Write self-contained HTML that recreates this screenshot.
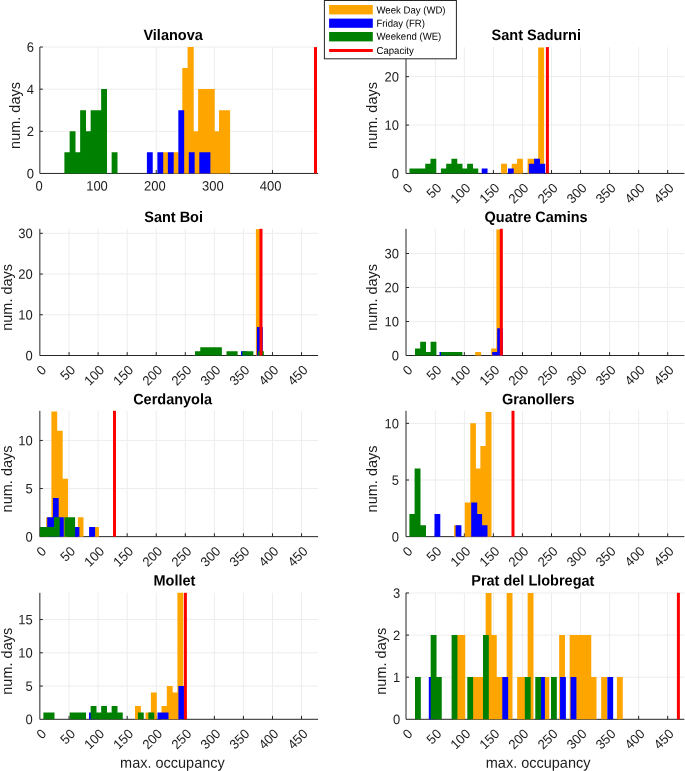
<!DOCTYPE html>
<html><head><meta charset="utf-8"><title>Occupancy histograms</title>
<style>html,body{margin:0;padding:0;background:#fff}svg{display:block;will-change:transform}</style></head>
<body>
<svg width="685" height="771" viewBox="0 0 685 771" font-family="Liberation Sans, sans-serif" fill="#1c1c1c">
<rect width="685" height="771" fill="#fff"/>
<path d="M98.12 47.10V173.45M156.24 47.10V173.45M214.36 47.10V173.45M272.48 47.10V173.45M39.85 131.31H318.10M39.85 89.17H318.10M39.85 47.03H318.10" stroke="#EDEDED" stroke-width="1" fill="none"/>
<path d="M39.85 47.10V173.45H318.10M98.12 173.45v-3.4M156.24 173.45v-3.4M214.36 173.45v-3.4M272.48 173.45v-3.4M39.85 131.31h3.0M39.85 89.17h3.0M39.85 47.03h3.0" stroke="#262626" stroke-width="1" fill="none"/>
<path d="M162.60 173.45V152.28H168.30V173.45ZM172.90 173.45V152.28H178.80V173.45ZM182.30 173.45V68.00H188.20V173.45ZM187.60 173.45V47.10H193.70V173.45ZM193.10 173.45V131.21H198.70V173.45ZM198.10 173.45V89.07H214.70V173.45ZM214.10 173.45V131.21H219.60V173.45ZM219.00 173.45V110.14H230.10V173.45Z" fill="#FFA500"/>
<path d="M146.90 173.45V152.28H152.74V173.45ZM157.38 173.45V152.28H163.22V173.45ZM167.86 173.45V152.28H173.70V173.45ZM178.34 173.45V110.14H184.18V173.45ZM188.82 173.45V152.28H194.66V173.45ZM199.30 173.45V152.28H205.14V173.45ZM204.54 173.45V152.28H210.38V173.45Z" fill="#0000FF"/>
<path d="M64.40 173.45V152.28H70.25V173.45ZM69.65 173.45V131.21H75.50V173.45ZM74.90 173.45V152.28H80.75V173.45ZM80.15 173.45V110.14H86.00V173.45ZM85.40 173.45V131.21H91.25V173.45ZM90.65 173.45V110.14H96.50V173.45ZM95.90 173.45V110.14H101.75V173.45ZM101.15 173.45V89.07H107.00V173.45ZM111.65 173.45V152.28H117.50V173.45Z" fill="#008000"/>
<path d="M315.50 47.10V173.45" stroke="#FF0000" stroke-width="3" fill="none"/>
<text transform="translate(34.05 178.25) rotate(0.03) scale(1 1.04)" font-size="13.0" text-anchor="end">0</text>
<text transform="translate(34.05 136.11) rotate(0.03) scale(1 1.04)" font-size="13.0" text-anchor="end">2</text>
<text transform="translate(34.05 93.97) rotate(0.03) scale(1 1.04)" font-size="13.0" text-anchor="end">4</text>
<text transform="translate(34.05 51.83) rotate(0.03) scale(1 1.04)" font-size="13.0" text-anchor="end">6</text>
<text transform="translate(39.10 190.55) rotate(0.03) scale(1 1.04)" font-size="13.0" text-anchor="middle">0</text>
<text transform="translate(97.00 190.55) rotate(0.03) scale(1 1.04)" font-size="13.0" text-anchor="middle">100</text>
<text transform="translate(154.90 190.55) rotate(0.03) scale(1 1.04)" font-size="13.0" text-anchor="middle">200</text>
<text transform="translate(212.80 190.55) rotate(0.03) scale(1 1.04)" font-size="13.0" text-anchor="middle">300</text>
<text transform="translate(270.70 190.55) rotate(0.03) scale(1 1.04)" font-size="13.0" text-anchor="middle">400</text>
<text transform="translate(19.95 115.47) rotate(-90)" font-size="14.5" text-anchor="middle">num. days</text>
<text transform="translate(173.10 40.10) rotate(0.03) scale(1 1.04)" font-size="14.5" font-weight="bold" text-anchor="middle" fill="#000">Vilanova</text>
<path d="M435.30 47.10V173.45M464.35 47.10V173.45M493.40 47.10V173.45M522.45 47.10V173.45M551.50 47.10V173.45M580.55 47.10V173.45M609.60 47.10V173.45M638.65 47.10V173.45M667.70 47.10V173.45M406.00 125.05H684.40M406.00 76.65H684.40" stroke="#EDEDED" stroke-width="1" fill="none"/>
<path d="M406.00 47.10V173.45H684.40M435.30 173.45v-3.4M464.35 173.45v-3.4M493.40 173.45v-3.4M522.45 173.45v-3.4M551.50 173.45v-3.4M580.55 173.45v-3.4M609.60 173.45v-3.4M638.65 173.45v-3.4M667.70 173.45v-3.4M406.00 125.05h3.0M406.00 76.65h3.0" stroke="#262626" stroke-width="1" fill="none"/>
<path d="M501.10 173.45V163.67H507.00V173.45ZM511.70 173.45V163.67H517.60V173.45ZM517.00 173.45V158.83H522.90V173.45ZM527.60 173.45V158.83H533.50V173.45ZM532.90 173.45V158.83H538.80V173.45ZM538.20 173.45V47.51H544.10V173.45Z" fill="#FFA500"/>
<path d="M481.70 173.45V168.51H487.54V173.45ZM507.90 173.45V168.51H513.74V173.45ZM528.86 173.45V163.67H534.70V173.45ZM534.10 173.45V158.83H539.94V173.45ZM539.34 173.45V163.67H545.18V173.45Z" fill="#0000FF"/>
<path d="M409.50 173.45V168.51H415.34V173.45ZM414.74 173.45V168.51H420.58V173.45ZM419.98 173.45V168.51H425.82V173.45ZM425.22 173.45V163.67H431.06V173.45ZM430.46 173.45V158.83H436.30V173.45ZM440.94 173.45V168.51H446.78V173.45ZM446.18 173.45V163.67H452.02V173.45ZM451.42 173.45V158.83H457.26V173.45ZM456.66 173.45V163.67H462.50V173.45ZM461.90 173.45V168.51H467.74V173.45ZM467.14 173.45V163.67H472.98V173.45ZM472.38 173.45V168.51H478.22V173.45Z" fill="#008000"/>
<path d="M547.40 47.10V173.45" stroke="#FF0000" stroke-width="3" fill="none"/>
<text transform="translate(399.00 178.25) rotate(0.03) scale(1 1.04)" font-size="13.0" text-anchor="end">0</text>
<text transform="translate(399.00 129.85) rotate(0.03) scale(1 1.04)" font-size="13.0" text-anchor="end">10</text>
<text transform="translate(399.00 81.45) rotate(0.03) scale(1 1.04)" font-size="13.0" text-anchor="end">20</text>
<text transform="translate(413.25 188.85) rotate(-45) scale(1 1.03)" font-size="13.0" text-anchor="end">0</text>
<text transform="translate(442.30 188.85) rotate(-45) scale(1 1.03)" font-size="13.0" text-anchor="end">50</text>
<text transform="translate(471.35 188.85) rotate(-45) scale(1 1.03)" font-size="13.0" text-anchor="end">100</text>
<text transform="translate(500.40 188.85) rotate(-45) scale(1 1.03)" font-size="13.0" text-anchor="end">150</text>
<text transform="translate(529.45 188.85) rotate(-45) scale(1 1.03)" font-size="13.0" text-anchor="end">200</text>
<text transform="translate(558.50 188.85) rotate(-45) scale(1 1.03)" font-size="13.0" text-anchor="end">250</text>
<text transform="translate(587.55 188.85) rotate(-45) scale(1 1.03)" font-size="13.0" text-anchor="end">300</text>
<text transform="translate(616.60 188.85) rotate(-45) scale(1 1.03)" font-size="13.0" text-anchor="end">350</text>
<text transform="translate(645.65 188.85) rotate(-45) scale(1 1.03)" font-size="13.0" text-anchor="end">400</text>
<text transform="translate(674.70 188.85) rotate(-45) scale(1 1.03)" font-size="13.0" text-anchor="end">450</text>
<text transform="translate(376.90 115.47) rotate(-90)" font-size="14.5" text-anchor="middle">num. days</text>
<text transform="translate(536.30 40.10) rotate(0.03) scale(1 1.04)" font-size="14.5" font-weight="bold" text-anchor="middle" fill="#000">Sant Sadurni</text>
<path d="M69.06 228.80V355.50M98.12 228.80V355.50M127.18 228.80V355.50M156.24 228.80V355.50M185.30 228.80V355.50M214.36 228.80V355.50M243.42 228.80V355.50M272.48 228.80V355.50M301.54 228.80V355.50M39.85 314.77H318.10M39.85 274.04H318.10M39.85 233.31H318.10" stroke="#EDEDED" stroke-width="1" fill="none"/>
<path d="M39.85 228.80V355.50H318.10M69.06 355.50v-3.4M98.12 355.50v-3.4M127.18 355.50v-3.4M156.24 355.50v-3.4M185.30 355.50v-3.4M214.36 355.50v-3.4M243.42 355.50v-3.4M272.48 355.50v-3.4M301.54 355.50v-3.4M39.85 314.77h3.0M39.85 274.04h3.0M39.85 233.31h3.0" stroke="#262626" stroke-width="1" fill="none"/>
<path d="M255.90 355.50V229.14H261.50V355.50Z" fill="#FFA500"/>
<path d="M241.00 355.50V351.33H246.80V355.50ZM256.90 355.50V326.89H262.80V355.50Z" fill="#0000FF"/>
<path d="M195.00 355.50V351.33H200.85V355.50ZM200.25 355.50V347.25H206.10V355.50ZM205.50 355.50V347.25H211.35V355.50ZM210.75 355.50V347.25H216.60V355.50ZM216.00 355.50V347.25H221.85V355.50ZM226.50 355.50V351.33H232.35V355.50ZM231.75 355.50V351.33H237.60V355.50ZM242.25 355.50V351.33H248.10V355.50ZM247.50 355.50V351.33H253.35V355.50ZM258.00 355.50V351.33H263.85V355.50Z" fill="#008000"/>
<path d="M261.00 228.80V355.50" stroke="#FF0000" stroke-width="3" fill="none"/>
<text transform="translate(32.75 360.30) rotate(0.03) scale(1 1.04)" font-size="13.0" text-anchor="end">0</text>
<text transform="translate(32.75 319.57) rotate(0.03) scale(1 1.04)" font-size="13.0" text-anchor="end">10</text>
<text transform="translate(32.75 278.84) rotate(0.03) scale(1 1.04)" font-size="13.0" text-anchor="end">20</text>
<text transform="translate(32.75 238.11) rotate(0.03) scale(1 1.04)" font-size="13.0" text-anchor="end">30</text>
<text transform="translate(47.00 370.90) rotate(-45) scale(1 1.03)" font-size="13.0" text-anchor="end">0</text>
<text transform="translate(76.06 370.90) rotate(-45) scale(1 1.03)" font-size="13.0" text-anchor="end">50</text>
<text transform="translate(105.12 370.90) rotate(-45) scale(1 1.03)" font-size="13.0" text-anchor="end">100</text>
<text transform="translate(134.18 370.90) rotate(-45) scale(1 1.03)" font-size="13.0" text-anchor="end">150</text>
<text transform="translate(163.24 370.90) rotate(-45) scale(1 1.03)" font-size="13.0" text-anchor="end">200</text>
<text transform="translate(192.30 370.90) rotate(-45) scale(1 1.03)" font-size="13.0" text-anchor="end">250</text>
<text transform="translate(221.36 370.90) rotate(-45) scale(1 1.03)" font-size="13.0" text-anchor="end">300</text>
<text transform="translate(250.42 370.90) rotate(-45) scale(1 1.03)" font-size="13.0" text-anchor="end">350</text>
<text transform="translate(279.48 370.90) rotate(-45) scale(1 1.03)" font-size="13.0" text-anchor="end">400</text>
<text transform="translate(308.54 370.90) rotate(-45) scale(1 1.03)" font-size="13.0" text-anchor="end">450</text>
<text transform="translate(11.55 297.35) rotate(-90)" font-size="14.5" text-anchor="middle">num. days</text>
<text transform="translate(173.60 222.10) rotate(0.03) scale(1 1.04)" font-size="14.5" font-weight="bold" text-anchor="middle" fill="#000">Sant Boi</text>
<path d="M435.30 228.80V355.50M464.35 228.80V355.50M493.40 228.80V355.50M522.45 228.80V355.50M551.50 228.80V355.50M580.55 228.80V355.50M609.60 228.80V355.50M638.65 228.80V355.50M667.70 228.80V355.50M406.00 321.50H684.40M406.00 287.50H684.40M406.00 253.50H684.40" stroke="#EDEDED" stroke-width="1" fill="none"/>
<path d="M406.00 228.80V355.50H684.40M435.30 355.50v-3.4M464.35 355.50v-3.4M493.40 355.50v-3.4M522.45 355.50v-3.4M551.50 355.50v-3.4M580.55 355.50v-3.4M609.60 355.50v-3.4M638.65 355.50v-3.4M667.70 355.50v-3.4M406.00 321.50h3.0M406.00 287.50h3.0M406.00 253.50h3.0" stroke="#262626" stroke-width="1" fill="none"/>
<path d="M475.20 355.50V352.00H481.10V355.50ZM491.20 355.50V348.60H497.00V355.50ZM496.40 355.50V229.60H502.30V355.50Z" fill="#FFA500"/>
<path d="M439.50 355.50V352.00H445.30V355.50ZM492.20 355.50V352.00H497.80V355.50ZM497.20 355.50V328.20H502.80V355.50Z" fill="#0000FF"/>
<path d="M415.00 355.50V348.60H420.80V355.50ZM420.20 355.50V341.80H426.00V355.50ZM425.40 355.50V352.00H431.20V355.50ZM430.60 355.50V341.80H436.40V355.50ZM441.00 355.50V352.00H446.80V355.50ZM446.20 355.50V352.00H452.00V355.50ZM451.40 355.50V352.00H457.20V355.50ZM456.60 355.50V352.00H462.40V355.50Z" fill="#008000"/>
<path d="M501.30 228.80V355.50" stroke="#FF0000" stroke-width="3" fill="none"/>
<text transform="translate(399.00 360.30) rotate(0.03) scale(1 1.04)" font-size="13.0" text-anchor="end">0</text>
<text transform="translate(399.00 326.30) rotate(0.03) scale(1 1.04)" font-size="13.0" text-anchor="end">10</text>
<text transform="translate(399.00 292.30) rotate(0.03) scale(1 1.04)" font-size="13.0" text-anchor="end">20</text>
<text transform="translate(399.00 258.30) rotate(0.03) scale(1 1.04)" font-size="13.0" text-anchor="end">30</text>
<text transform="translate(413.25 370.90) rotate(-45) scale(1 1.03)" font-size="13.0" text-anchor="end">0</text>
<text transform="translate(442.30 370.90) rotate(-45) scale(1 1.03)" font-size="13.0" text-anchor="end">50</text>
<text transform="translate(471.35 370.90) rotate(-45) scale(1 1.03)" font-size="13.0" text-anchor="end">100</text>
<text transform="translate(500.40 370.90) rotate(-45) scale(1 1.03)" font-size="13.0" text-anchor="end">150</text>
<text transform="translate(529.45 370.90) rotate(-45) scale(1 1.03)" font-size="13.0" text-anchor="end">200</text>
<text transform="translate(558.50 370.90) rotate(-45) scale(1 1.03)" font-size="13.0" text-anchor="end">250</text>
<text transform="translate(587.55 370.90) rotate(-45) scale(1 1.03)" font-size="13.0" text-anchor="end">300</text>
<text transform="translate(616.60 370.90) rotate(-45) scale(1 1.03)" font-size="13.0" text-anchor="end">350</text>
<text transform="translate(645.65 370.90) rotate(-45) scale(1 1.03)" font-size="13.0" text-anchor="end">400</text>
<text transform="translate(674.70 370.90) rotate(-45) scale(1 1.03)" font-size="13.0" text-anchor="end">450</text>
<text transform="translate(376.90 297.35) rotate(-90)" font-size="14.5" text-anchor="middle">num. days</text>
<text transform="translate(536.10 222.10) rotate(0.03) scale(1 1.04)" font-size="14.5" font-weight="bold" text-anchor="middle" fill="#000">Quatre Camins</text>
<path d="M69.06 410.80V536.65M98.12 410.80V536.65M127.18 410.80V536.65M156.24 410.80V536.65M185.30 410.80V536.65M214.36 410.80V536.65M243.42 410.80V536.65M272.48 410.80V536.65M301.54 410.80V536.65M39.85 488.55H318.10M39.85 440.45H318.10" stroke="#EDEDED" stroke-width="1" fill="none"/>
<path d="M39.85 410.80V536.65H318.10M69.06 536.65v-3.4M98.12 536.65v-3.4M127.18 536.65v-3.4M156.24 536.65v-3.4M185.30 536.65v-3.4M214.36 536.65v-3.4M243.42 536.65v-3.4M272.48 536.65v-3.4M301.54 536.65v-3.4M39.85 488.55h3.0M39.85 440.45h3.0" stroke="#262626" stroke-width="1" fill="none"/>
<path d="M46.20 536.65V517.31H52.00V536.65ZM51.40 536.65V411.49H57.20V536.65ZM56.60 536.65V430.73H62.70V536.65ZM62.10 536.65V478.83H68.00V536.65ZM77.90 536.65V517.31H83.50V536.65ZM93.55 536.65V526.93H99.00V536.65Z" fill="#FFA500"/>
<path d="M47.20 536.65V517.31H53.50V536.65ZM52.90 536.65V498.07H58.70V536.65ZM58.10 536.65V517.31H63.80V536.65ZM73.70 536.65V526.93H79.40V536.65ZM89.10 536.65V526.93H95.10V536.65Z" fill="#0000FF"/>
<path d="M39.85 536.65V526.93H54.60V536.65ZM54.00 536.65V517.31H59.70V536.65ZM64.40 536.65V517.31H75.10V536.65Z" fill="#008000"/>
<path d="M114.50 410.80V536.65" stroke="#FF0000" stroke-width="3" fill="none"/>
<text transform="translate(32.75 541.45) rotate(0.03) scale(1 1.04)" font-size="13.0" text-anchor="end">0</text>
<text transform="translate(32.75 493.35) rotate(0.03) scale(1 1.04)" font-size="13.0" text-anchor="end">5</text>
<text transform="translate(32.75 445.25) rotate(0.03) scale(1 1.04)" font-size="13.0" text-anchor="end">10</text>
<text transform="translate(47.00 552.05) rotate(-45) scale(1 1.03)" font-size="13.0" text-anchor="end">0</text>
<text transform="translate(76.06 552.05) rotate(-45) scale(1 1.03)" font-size="13.0" text-anchor="end">50</text>
<text transform="translate(105.12 552.05) rotate(-45) scale(1 1.03)" font-size="13.0" text-anchor="end">100</text>
<text transform="translate(134.18 552.05) rotate(-45) scale(1 1.03)" font-size="13.0" text-anchor="end">150</text>
<text transform="translate(163.24 552.05) rotate(-45) scale(1 1.03)" font-size="13.0" text-anchor="end">200</text>
<text transform="translate(192.30 552.05) rotate(-45) scale(1 1.03)" font-size="13.0" text-anchor="end">250</text>
<text transform="translate(221.36 552.05) rotate(-45) scale(1 1.03)" font-size="13.0" text-anchor="end">300</text>
<text transform="translate(250.42 552.05) rotate(-45) scale(1 1.03)" font-size="13.0" text-anchor="end">350</text>
<text transform="translate(279.48 552.05) rotate(-45) scale(1 1.03)" font-size="13.0" text-anchor="end">400</text>
<text transform="translate(308.54 552.05) rotate(-45) scale(1 1.03)" font-size="13.0" text-anchor="end">450</text>
<text transform="translate(11.55 478.93) rotate(-90)" font-size="14.5" text-anchor="middle">num. days</text>
<text transform="translate(172.60 404.30) rotate(0.03) scale(1 1.04)" font-size="14.5" font-weight="bold" text-anchor="middle" fill="#000">Cerdanyola</text>
<path d="M435.30 410.80V536.65M464.35 410.80V536.65M493.40 410.80V536.65M522.45 410.80V536.65M551.50 410.80V536.65M580.55 410.80V536.65M609.60 410.80V536.65M638.65 410.80V536.65M667.70 410.80V536.65M406.00 480.00H684.40M406.00 423.35H684.40" stroke="#EDEDED" stroke-width="1" fill="none"/>
<path d="M406.00 410.80V536.65H684.40M435.30 536.65v-3.4M464.35 536.65v-3.4M493.40 536.65v-3.4M522.45 536.65v-3.4M551.50 536.65v-3.4M580.55 536.65v-3.4M609.60 536.65v-3.4M638.65 536.65v-3.4M667.70 536.65v-3.4M406.00 480.00h3.0M406.00 423.35h3.0" stroke="#262626" stroke-width="1" fill="none"/>
<path d="M454.10 536.65V525.22H460.00V536.65ZM464.80 536.65V502.56H470.60V536.65ZM470.30 536.65V423.25H475.90V536.65ZM475.30 536.65V468.57H481.00V536.65ZM480.40 536.65V445.91H486.20V536.65ZM485.60 536.65V411.92H491.50V536.65Z" fill="#FFA500"/>
<path d="M434.50 536.65V513.89H440.30V536.65ZM455.60 536.65V525.22H461.40V536.65ZM471.20 536.65V502.56H477.20V536.65ZM476.60 536.65V513.89H482.10V536.65ZM481.50 536.65V525.22H487.50V536.65Z" fill="#0000FF"/>
<path d="M409.40 536.65V513.89H415.20V536.65ZM414.60 536.65V468.57H420.50V536.65ZM419.90 536.65V525.22H426.00V536.65Z" fill="#008000"/>
<path d="M513.00 410.80V536.65" stroke="#FF0000" stroke-width="3" fill="none"/>
<text transform="translate(399.00 541.45) rotate(0.03) scale(1 1.04)" font-size="13.0" text-anchor="end">0</text>
<text transform="translate(399.00 484.80) rotate(0.03) scale(1 1.04)" font-size="13.0" text-anchor="end">5</text>
<text transform="translate(399.00 428.15) rotate(0.03) scale(1 1.04)" font-size="13.0" text-anchor="end">10</text>
<text transform="translate(413.25 552.05) rotate(-45) scale(1 1.03)" font-size="13.0" text-anchor="end">0</text>
<text transform="translate(442.30 552.05) rotate(-45) scale(1 1.03)" font-size="13.0" text-anchor="end">50</text>
<text transform="translate(471.35 552.05) rotate(-45) scale(1 1.03)" font-size="13.0" text-anchor="end">100</text>
<text transform="translate(500.40 552.05) rotate(-45) scale(1 1.03)" font-size="13.0" text-anchor="end">150</text>
<text transform="translate(529.45 552.05) rotate(-45) scale(1 1.03)" font-size="13.0" text-anchor="end">200</text>
<text transform="translate(558.50 552.05) rotate(-45) scale(1 1.03)" font-size="13.0" text-anchor="end">250</text>
<text transform="translate(587.55 552.05) rotate(-45) scale(1 1.03)" font-size="13.0" text-anchor="end">300</text>
<text transform="translate(616.60 552.05) rotate(-45) scale(1 1.03)" font-size="13.0" text-anchor="end">350</text>
<text transform="translate(645.65 552.05) rotate(-45) scale(1 1.03)" font-size="13.0" text-anchor="end">400</text>
<text transform="translate(674.70 552.05) rotate(-45) scale(1 1.03)" font-size="13.0" text-anchor="end">450</text>
<text transform="translate(376.90 478.93) rotate(-90)" font-size="14.5" text-anchor="middle">num. days</text>
<text transform="translate(538.20 404.30) rotate(0.03) scale(1 1.04)" font-size="14.5" font-weight="bold" text-anchor="middle" fill="#000">Granollers</text>
<path d="M69.06 592.80V719.30M98.12 592.80V719.30M127.18 592.80V719.30M156.24 592.80V719.30M185.30 592.80V719.30M214.36 592.80V719.30M243.42 592.80V719.30M272.48 592.80V719.30M301.54 592.80V719.30M39.85 686.05H318.10M39.85 652.80H318.10M39.85 619.55H318.10" stroke="#EDEDED" stroke-width="1" fill="none"/>
<path d="M39.85 592.80V719.30H318.10M69.06 719.30v-3.4M98.12 719.30v-3.4M127.18 719.30v-3.4M156.24 719.30v-3.4M185.30 719.30v-3.4M214.36 719.30v-3.4M243.42 719.30v-3.4M272.48 719.30v-3.4M301.54 719.30v-3.4M39.85 686.05h3.0M39.85 652.80h3.0M39.85 619.55h3.0" stroke="#262626" stroke-width="1" fill="none"/>
<path d="M135.00 719.30V705.90H140.90V719.30ZM145.60 719.30V712.55H151.50V719.30ZM150.90 719.30V692.60H156.80V719.30ZM161.50 719.30V705.90H167.40V719.30ZM166.80 719.30V685.95H172.70V719.30ZM172.10 719.30V692.60H178.00V719.30ZM177.40 719.30V592.85H183.30V719.30Z" fill="#FFA500"/>
<path d="M89.00 719.30V712.55H94.80V719.30ZM157.50 719.30V712.55H163.30V719.30ZM162.70 719.30V712.55H168.50V719.30ZM178.40 719.30V685.95H184.10V719.30Z" fill="#0000FF"/>
<path d="M43.40 719.30V712.55H49.25V719.30ZM48.65 719.30V712.55H54.50V719.30ZM69.65 719.30V712.55H75.50V719.30ZM74.90 719.30V712.55H80.75V719.30ZM80.15 719.30V712.55H86.00V719.30ZM90.65 719.30V705.90H96.50V719.30ZM95.90 719.30V712.55H101.75V719.30ZM101.15 719.30V705.90H107.00V719.30ZM106.40 719.30V712.55H112.25V719.30ZM111.65 719.30V705.90H117.50V719.30ZM116.90 719.30V712.55H122.75V719.30ZM137.90 719.30V712.55H143.75V719.30ZM148.40 719.30V712.55H154.25V719.30Z" fill="#008000"/>
<path d="M185.40 592.80V719.30" stroke="#FF0000" stroke-width="3" fill="none"/>
<text transform="translate(32.75 724.10) rotate(0.03) scale(1 1.04)" font-size="13.0" text-anchor="end">0</text>
<text transform="translate(32.75 690.85) rotate(0.03) scale(1 1.04)" font-size="13.0" text-anchor="end">5</text>
<text transform="translate(32.75 657.60) rotate(0.03) scale(1 1.04)" font-size="13.0" text-anchor="end">10</text>
<text transform="translate(32.75 624.35) rotate(0.03) scale(1 1.04)" font-size="13.0" text-anchor="end">15</text>
<text transform="translate(47.00 734.70) rotate(-45) scale(1 1.03)" font-size="13.0" text-anchor="end">0</text>
<text transform="translate(76.06 734.70) rotate(-45) scale(1 1.03)" font-size="13.0" text-anchor="end">50</text>
<text transform="translate(105.12 734.70) rotate(-45) scale(1 1.03)" font-size="13.0" text-anchor="end">100</text>
<text transform="translate(134.18 734.70) rotate(-45) scale(1 1.03)" font-size="13.0" text-anchor="end">150</text>
<text transform="translate(163.24 734.70) rotate(-45) scale(1 1.03)" font-size="13.0" text-anchor="end">200</text>
<text transform="translate(192.30 734.70) rotate(-45) scale(1 1.03)" font-size="13.0" text-anchor="end">250</text>
<text transform="translate(221.36 734.70) rotate(-45) scale(1 1.03)" font-size="13.0" text-anchor="end">300</text>
<text transform="translate(250.42 734.70) rotate(-45) scale(1 1.03)" font-size="13.0" text-anchor="end">350</text>
<text transform="translate(279.48 734.70) rotate(-45) scale(1 1.03)" font-size="13.0" text-anchor="end">400</text>
<text transform="translate(308.54 734.70) rotate(-45) scale(1 1.03)" font-size="13.0" text-anchor="end">450</text>
<text transform="translate(11.55 661.25) rotate(-90)" font-size="14.5" text-anchor="middle">num. days</text>
<text transform="translate(174.40 585.60) rotate(0.03) scale(1 1.04)" font-size="14.5" font-weight="bold" text-anchor="middle" fill="#000">Mollet</text>
<text transform="translate(172.40 767.7) rotate(0.03) scale(1 1.03)" font-size="14.5" text-anchor="middle">max. occupancy</text>
<path d="M435.30 592.80V719.30M464.35 592.80V719.30M493.40 592.80V719.30M522.45 592.80V719.30M551.50 592.80V719.30M580.55 592.80V719.30M609.60 592.80V719.30M638.65 592.80V719.30M667.70 592.80V719.30M406.00 677.20H684.40M406.00 635.10H684.40M406.00 593.00H684.40" stroke="#EDEDED" stroke-width="1" fill="none"/>
<path d="M406.00 592.80V719.30H684.40M435.30 719.30v-3.4M464.35 719.30v-3.4M493.40 719.30v-3.4M522.45 719.30v-3.4M551.50 719.30v-3.4M580.55 719.30v-3.4M609.60 719.30v-3.4M638.65 719.30v-3.4M667.70 719.30v-3.4M406.00 677.20h3.0M406.00 635.10h3.0M406.00 593.00h3.0" stroke="#262626" stroke-width="1" fill="none"/>
<path d="M454.15 719.30V635.00H460.00V719.30ZM459.40 719.30V635.00H465.25V719.30ZM469.90 719.30V677.10H475.75V719.30ZM475.15 719.30V677.10H481.00V719.30ZM480.40 719.30V677.10H486.25V719.30ZM485.65 719.30V592.90H491.50V719.30ZM490.90 719.30V635.00H496.75V719.30ZM496.15 719.30V677.10H502.00V719.30ZM501.40 719.30V677.10H507.25V719.30ZM506.65 719.30V592.90H512.50V719.30ZM517.15 719.30V677.10H523.00V719.30ZM522.40 719.30V677.10H528.25V719.30ZM527.65 719.30V592.90H533.50V719.30ZM543.40 719.30V677.10H549.25V719.30ZM559.15 719.30V635.00H565.00V719.30ZM569.65 719.30V635.00H575.50V719.30ZM574.90 719.30V635.00H580.75V719.30ZM580.15 719.30V635.00H586.00V719.30ZM585.40 719.30V635.00H591.25V719.30ZM590.65 719.30V677.10H596.50V719.30ZM601.15 719.30V677.10H607.00V719.30ZM616.90 719.30V677.10H622.75V719.30Z" fill="#FFA500"/>
<path d="M428.80 719.30V677.10H434.65V719.30ZM502.30 719.30V677.10H508.15V719.30ZM539.05 719.30V677.10H544.90V719.30ZM560.05 719.30V677.10H565.90V719.30ZM570.55 719.30V677.10H576.40V719.30ZM607.30 719.30V677.10H613.15V719.30Z" fill="#0000FF"/>
<path d="M415.00 719.30V677.10H420.83V719.30ZM430.69 719.30V635.00H436.52V719.30ZM435.92 719.30V677.10H441.75V719.30ZM451.61 719.30V635.00H457.44V719.30ZM467.30 719.30V677.10H473.13V719.30ZM482.99 719.30V635.00H488.82V719.30ZM524.83 719.30V677.10H530.66V719.30ZM535.29 719.30V677.10H541.12V719.30ZM550.98 719.30V677.10H556.81V719.30Z" fill="#008000"/>
<path d="M678.40 592.80V719.30" stroke="#FF0000" stroke-width="3" fill="none"/>
<text transform="translate(400.20 724.10) rotate(0.03) scale(1 1.04)" font-size="13.0" text-anchor="end">0</text>
<text transform="translate(400.20 682.00) rotate(0.03) scale(1 1.04)" font-size="13.0" text-anchor="end">1</text>
<text transform="translate(400.20 639.90) rotate(0.03) scale(1 1.04)" font-size="13.0" text-anchor="end">2</text>
<text transform="translate(400.20 597.80) rotate(0.03) scale(1 1.04)" font-size="13.0" text-anchor="end">3</text>
<text transform="translate(413.25 734.70) rotate(-45) scale(1 1.03)" font-size="13.0" text-anchor="end">0</text>
<text transform="translate(442.30 734.70) rotate(-45) scale(1 1.03)" font-size="13.0" text-anchor="end">50</text>
<text transform="translate(471.35 734.70) rotate(-45) scale(1 1.03)" font-size="13.0" text-anchor="end">100</text>
<text transform="translate(500.40 734.70) rotate(-45) scale(1 1.03)" font-size="13.0" text-anchor="end">150</text>
<text transform="translate(529.45 734.70) rotate(-45) scale(1 1.03)" font-size="13.0" text-anchor="end">200</text>
<text transform="translate(558.50 734.70) rotate(-45) scale(1 1.03)" font-size="13.0" text-anchor="end">250</text>
<text transform="translate(587.55 734.70) rotate(-45) scale(1 1.03)" font-size="13.0" text-anchor="end">300</text>
<text transform="translate(616.60 734.70) rotate(-45) scale(1 1.03)" font-size="13.0" text-anchor="end">350</text>
<text transform="translate(645.65 734.70) rotate(-45) scale(1 1.03)" font-size="13.0" text-anchor="end">400</text>
<text transform="translate(674.70 734.70) rotate(-45) scale(1 1.03)" font-size="13.0" text-anchor="end">450</text>
<text transform="translate(386.10 661.25) rotate(-90)" font-size="14.5" text-anchor="middle">num. days</text>
<text transform="translate(532.80 585.60) rotate(0.03) scale(1 1.04)" font-size="14.5" font-weight="bold" text-anchor="middle" fill="#000">Prat del Llobregat</text>
<text transform="translate(538.10 767.7) rotate(0.03) scale(1 1.03)" font-size="14.5" text-anchor="middle">max. occupancy</text>
<rect x="324.4" y="0.5" width="132" height="58.3" fill="#fff" stroke="#262626" stroke-width="1"/>
<rect x="329.1" y="5.0" width="43.7" height="9.4" fill="#FFA500"/>
<rect x="329.1" y="18.6" width="43.7" height="9.2" fill="#0000FF"/>
<rect x="329.1" y="32.0" width="43.7" height="9.4" fill="#008000"/>
<path d="M329.1 50.5H372.8" stroke="#FF0000" stroke-width="3"/>
<text transform="translate(376.5 13.5) rotate(0.03) scale(1 1.06)" font-size="9.6" fill="#000">Week Day (WD)</text>
<text transform="translate(376.5 26.7) rotate(0.03) scale(1 1.06)" font-size="9.6" fill="#000">Friday (FR)</text>
<text transform="translate(376.5 39.8) rotate(0.03) scale(1 1.06)" font-size="9.6" fill="#000">Weekend (WE)</text>
<text transform="translate(376.5 53.9) rotate(0.03) scale(1 1.06)" font-size="9.6" fill="#000">Capacity</text>
</svg>
</body></html>
